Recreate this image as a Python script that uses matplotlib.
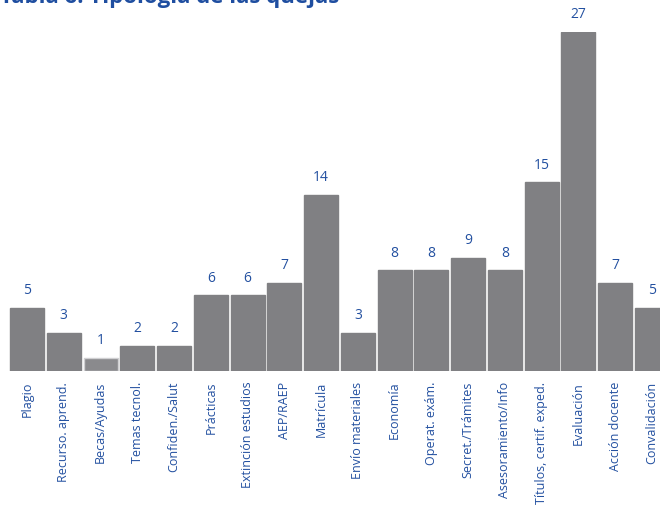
import matplotlib
matplotlib.use("Agg")
import matplotlib.pyplot as plt

categories = ["Plagio", "Recurso. aprend.", "Becas/Ayudas", "Temas tecnol.", "Confiden./Salut",
              "Prácticas", "Extinción estudios", "AEP/RAEP", "Matrícula", "Envío materiales",
              "Economía", "Operat. exám.", "Secret./Trámites", "Asesoramiento/Info",
              "Títulos, certif. exped.", "Evaluación", "Acción docente", "Convalidación"]
values = [5, 3, 1, 2, 2, 6, 6, 7, 14, 3, 8, 8, 9, 8, 15, 27, 7, 5]
title = "Tabla 6. Tipología de las quejas"

plt.rcParams['font.family'] = ['Open Sans', 'DejaVu Sans']
W, H = 660, 511
fig = plt.figure(figsize=(W/100, H/100), dpi=100)
pitch = 36.76
left_px = 27 - pitch/2
base_px = 370.7
unit = 12.55
ax = fig.add_axes([left_px/W, (H-base_px)/H, 18*pitch/W, 27*unit/H])

bar_color = "#808083"
text_color = "#2350a0"
x = list(range(len(categories)))
colors = [bar_color]*len(values)
edges = [bar_color]*len(values)
colors[2] = "#8a8a8d"
edges[2] = "#d0d0d2"
bars = ax.bar(x, values, width=34/pitch, color=colors, edgecolor=edges, linewidth=1.0)
for xi, v in zip(x, values):
    ax.annotate(str(v), (xi, v), xytext=(0, 7), textcoords="offset points",
                ha="center", va="bottom", color=text_color, fontsize=10, annotation_clip=False)
ax.set_xlim(-0.5, 17.5)
ax.set_ylim(0, 27)
ax.set_xticks(x)
ax.set_xticklabels(categories, rotation=90, color=text_color, fontsize=9)
ax.tick_params(axis='x', length=0, pad=8)
ax.set_yticks([])
for s in ax.spines.values():
    s.set_visible(False)

fig.text(0.0, 1 - 3.5/H, title, color="#1f4ea0", fontsize=16, fontweight="bold",
         ha="left", va="baseline")
fig.savefig("out.png", dpi=100)
